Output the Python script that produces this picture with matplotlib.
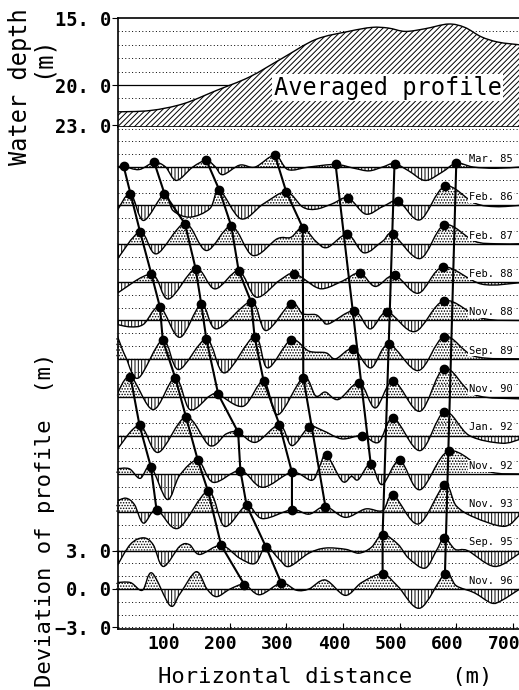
import numpy as np
import matplotlib
matplotlib.use("Agg")
import matplotlib.pyplot as plt
from matplotlib.path import Path
from matplotlib.patches import PathPatch, Rectangle
from matplotlib.transforms import ScaledTranslation

plt.rcParams['hatch.linewidth'] = 0.7
MONO = 'DejaVu Sans Mono'

#%% data (x in m, deviation / depth in m)

avg_x = [0, 60, 118, 177, 235, 293, 352, 410, 451, 480, 510, 545, 586, 615, 644, 674, 712]
avg_depth = [22.0, 21.9, 21.4, 20.4, 19.4, 18.0, 16.6, 16.0, 15.7, 15.75, 16.0, 15.8, 15.45, 15.7, 16.4, 16.8, 17.0]

years = ['Mar. 85', 'Feb. 86', 'Feb. 87', 'Feb. 88', 'Nov. 88', 'Sep. 89',
         'Nov. 90', 'Jan. 92', 'Nov. 92', 'Nov. 93', 'Sep. 95', 'Nov. 96']

x_mar85 = [0, 13, 40, 67, 87, 106, 135, 159, 175, 188, 218, 245, 280, 303, 340, 387, 420, 446, 470, 491, 516, 545, 575, 600, 630, 670, 712]
d_mar85 = [0.0, 0.05, -0.2, 0.36, 0.0, -1.05, 0.0, 0.52, 0.0, -0.6, 0.15, 0.0, 0.92, -0.2, 0.0, 0.2, -0.1, -0.3, 0.0, 0.27, -0.3, -1.05, -0.4, 0.3, 0.0, -0.1, 0.0]

x_feb86 = [0, 25, 48, 85, 100, 130, 165, 182, 220, 260, 300, 329, 352, 380, 409, 440, 470, 498, 536, 580, 632, 670, 712]
d_feb86 = [-0.53, 0.92, -1.18, 0.92, -0.4, -0.92, -0.26, 1.18, -1.05, 0.13, 1.05, -0.13, -0.3, 0.1, 0.58, -0.68, -0.1, 0.32, -1.13, 1.5, 0.18, -0.1, 0.0]

x_feb87 = [0, 42, 71, 121, 159, 203, 241, 284, 308, 329, 352, 372, 408, 437, 470, 488, 536, 579, 632, 670, 712]
d_feb87 = [-1.32, 0.92, -0.79, 1.58, -0.53, 1.37, -0.92, 0.39, 0.5, 1.26, 0.2, -0.3, 0.74, -0.71, 0.2, 0.74, -1.16, 1.47, 0.2, 0.0, 0.0]

x_feb88 = [0, 62, 92, 140, 174, 216, 247, 288, 314, 352, 370, 400, 430, 457, 491, 533, 577, 645, 712]
d_feb88 = [-0.92, 0.61, -1.32, 1.05, -0.53, 0.87, -1.18, 0.13, 0.66, -0.39, -0.47, 0.1, 0.71, -0.34, 0.53, -0.87, 1.18, -0.16, -0.05]

x_nov88 = [0, 25, 48, 77, 112, 150, 177, 238, 264, 308, 329, 352, 363, 375, 420, 448, 478, 527, 579, 645, 712]
d_nov88 = [-0.3, -0.5, -0.3, 1.05, -1.32, 1.26, -0.66, 1.45, -0.79, 1.32, 0.53, 0.45, 0.05, -0.26, 0.76, -0.66, 0.66, -0.87, 1.55, 0.18, 0.0]

x_sep89 = [0, 17, 39, 82, 110, 159, 191, 244, 267, 308, 340, 370, 387, 418, 449, 481, 533, 579, 632, 712]
d_sep89 = [2.0, 0.1, -1.5, 1.47, -0.84, 1.52, -1.1, 1.74, -0.71, 1.47, 0.6, 0.47, 0.0, 0.79, -0.71, 1.13, -0.92, 1.74, 0.2, 0.0]

x_nov90 = [0, 25, 65, 104, 130, 165, 180, 224, 260, 285, 330, 352, 369, 392, 429, 457, 489, 536, 579, 632, 712]
d_nov90 = [0.1, 1.6, -0.97, 1.53, -0.97, 0.1, 0.21, -0.71, 1.26, -1.37, 1.53, 0.1, 0.4, -0.18, 1.13, -0.84, 1.26, -1.1, 2.24, 0.2, -0.13]

x_jan92 = [0, 41, 74, 123, 165, 194, 215, 246, 288, 310, 340, 364, 398, 434, 463, 489, 536, 579, 623, 680, 712]
d_jan92 = [-1.18, 0.79, -1.32, 1.45, -0.79, 0.13, 0.26, -0.53, 0.84, -0.79, 0.66, 0.4, -0.26, 0.0, -0.53, 1.37, -1.18, 1.84, 0.0, -0.6, -0.3]

x_nov92 = [0, 23, 42, 61, 90, 112, 144, 171, 219, 258, 310, 345, 358, 371, 399, 415, 427, 449, 469, 500, 536, 587, 656, 712]
d_nov92 = [0.4, 0.4, -0.35, 0.55, -2.0, -0.1, 1.05, -0.66, 0.26, -1.05, 0.13, -0.5, 0.5, 1.47, -0.58, -0.2, -0.45, 0.79, -0.84, 1.05, -1.24, 1.79, 0.2, 0.0]

x_nov93 = [0, 17, 32, 48, 71, 109, 162, 191, 230, 258, 310, 340, 369, 404, 440, 470, 489, 533, 579, 600, 632, 685, 712]
d_nov93 = [0.85, 1.1, 0.6, -0.85, 0.2, -1.26, 1.63, -1.1, 0.53, -0.5, 0.2, -0.15, 0.45, -0.4, 0.26, 0.13, 1.32, -0.92, 2.1, 0.5, -0.4, -1.1, -0.2]

x_sep95 = [0, 25, 48, 65, 83, 112, 129, 147, 185, 218, 245, 264, 288, 305, 340, 369, 405, 428, 450, 470, 497, 516, 545, 565, 579, 598, 620, 668, 712]
d_sep95 = [-1.3, 0.5, 1.0, 0.47, -1.24, 0.34, 0.47, -0.3, 0.42, -0.6, -1.0, 0.3, -0.7, -1.24, -0.2, 0.2, 0.1, -0.2, 0.25, 1.26, 0.5, -0.6, -1.37, 0.0, 1.0, 0.1, 0.0, -1.24, -0.2]

x_nov96 = [0, 25, 46, 63, 95, 112, 141, 160, 177, 201, 226, 253, 291, 318, 340, 369, 404, 433, 470, 497, 536, 580, 600, 632, 662, 680, 712]
d_nov96 = [0.5, 0.5, -0.1, 1.25, -1.3, -0.4, 1.35, 0.0, -0.6, 0.0, 0.34, -0.45, 0.47, -0.1, 0.0, 0.7, -0.5, 0.5, 1.18, 0.2, -1.5, 1.18, 0.25, -0.3, -1.1, -0.9, 0.0]

prof_x = [x_mar85, x_feb86, x_feb87, x_feb88, x_nov88, x_sep89,
          x_nov90, x_jan92, x_nov92, x_nov93, x_sep95, x_nov96]
prof_d = [d_mar85, d_feb86, d_feb87, d_feb88, d_nov88, d_sep89,
          d_nov90, d_jan92, d_nov92, d_nov93, d_sep95, d_nov96]

# crest positions (black dots), per profile
crest_x = [[13, 67, 159, 280, 387, 491, 600],
           [25, 85, 182, 300, 409, 498, 580],
           [42, 121, 203, 329, 408, 488, 579],
           [62, 140, 216, 314, 430, 491, 577],
           [77, 150, 238, 308, 420, 478, 579],
           [82, 159, 244, 308, 418, 481, 579],
           [25, 104, 180, 260, 330, 429, 489, 579],
           [41, 123, 215, 288, 340, 434, 489, 579],
           [61, 144, 219, 310, 371, 449, 500, 587],
           [71, 162, 230, 310, 369, 489, 579],
           [185, 264, 470, 579],
           [226, 291, 470, 580]]

# crest migration lines : (profile index, crest x)
track_a = [(0, 13), (1, 25), (2, 42), (3, 62), (4, 77), (5, 82), (6, 104), (7, 123), (8, 144), (9, 162), (10, 185), (11, 226)]
track_b = [(0, 67), (1, 85), (2, 121), (3, 140), (4, 150), (5, 159), (6, 180), (7, 215), (8, 219), (9, 230), (10, 264), (11, 291)]
track_c = [(0, 159), (1, 182), (2, 203), (3, 216), (4, 238), (5, 244), (6, 260), (7, 288), (8, 310), (9, 310)]
track_d = [(0, 280), (1, 300), (2, 329), (6, 330), (9, 369)]
track_e = [(6, 25), (7, 41), (8, 61), (9, 71)]
track_f = [(0, 387), (8, 449)]
track_g = [(0, 491), (10, 470), (11, 470)]
track_h = [(0, 600), (11, 580)]
tracks = [track_a, track_b, track_c, track_d, track_e, track_f, track_g, track_h]

step = 3.0
nprof = len(years)


def smooth(xs, ys):
    # bezier path running through every read point
    p = np.column_stack([xs, ys]).astype(float)
    n = len(p)
    verts = [p[0]]
    codes = [Path.MOVETO]
    for i in range(n-1):
        p0 = p[max(i-1, 0)]
        p1 = p[i]
        p2 = p[i+1]
        p3 = p[min(i+2, n-1)]
        verts += [p1+(p2-p0)/6, p2-(p3-p1)/6, p2]
        codes += [Path.CURVE4]*3
    return verts, codes


def closed(xs, ys, ybase):
    v, c = smooth(xs, ys)
    v = v+[(xs[-1], ybase), (xs[0], ybase), (xs[0], ys[0])]
    c = c+[Path.LINETO, Path.LINETO, Path.CLOSEPOLY]
    return Path(v, c)


def dotted(ax, y, lw=0.7):
    ax.axhline(y, color='k', lw=lw, ls=(0, (1, 2.5)), zorder=1)


W, H = 519, 690
fig = plt.figure(figsize=(W/100, H/100), dpi=100)
ax1 = fig.add_axes([118/W, 1-127/H, (W-118)/W, 109/H])
ax2 = fig.add_axes([118/W, 1-629/H, (W-118)/W, 502/H])

xlim = (3, 710.7)

#%% averaged profile
ax1.set_xlim(xlim)
ax1.set_ylim(23.13, 15.0)
for y in [16, 17, 18, 19, 21, 22]:
    dotted(ax1, y)
ax1.axhline(20, color='k', lw=0.9, zorder=1)
top = PathPatch(closed(avg_x, avg_depth, 23.5), facecolor='white', edgecolor='k',
                hatch='//////', lw=0, zorder=2)
ax1.add_patch(top)
v, c = smooth(avg_x, avg_depth)
ax1.add_patch(PathPatch(Path(v, c), fill=False, lw=1.0, zorder=3))
ax1.text(479, 20.2, 'Averaged profile', family=MONO, fontsize=17, ha='center', va='center',
         bbox=dict(facecolor='white', edgecolor='none', pad=1), zorder=5)
ax1.set_xticks([])
ax1.set_yticks([15, 20, 23])
ax1.set_yticklabels(['15. 0', '20. 0', '23. 0'], family=MONO, fontsize=13.5, fontweight='bold')
ax1.tick_params(axis='y', direction='out', length=4, width=0.8, pad=1)
ax1.spines['right'].set_visible(False)
for s in ['left', 'top', 'bottom']:
    ax1.spines[s].set_linewidth(1.2)

#%% deviations
ax2.set_xlim(xlim)
ax2.set_ylim(-3.13, 36.13)
for y in range(-3, 37):
    if y % 3 == 0 and 0 <= y <= 33:
        ax2.axhline(y, color='k', lw=1.0, zorder=2.5)
    else:
        dotted(ax2, y)

for k in range(nprof):
    base = step*(nprof-1-k)
    xs = np.array(prof_x[k], float)
    ys = base+np.array(prof_d[k])
    pth = closed(xs, ys, base)
    up = PathPatch(pth, facecolor='none', edgecolor='k', hatch='......', lw=0, zorder=2)
    dn = PathPatch(pth, facecolor='none', edgecolor='k', hatch='|||||', lw=0, zorder=2)
    ax2.add_patch(up)
    ax2.add_patch(dn)
    up.set_clip_path(Rectangle((-50, base), 900, step, transform=ax2.transData))
    dn.set_clip_path(Rectangle((-50, base-step), 900, step, transform=ax2.transData))
    v, c = smooth(xs, ys)
    ax2.add_patch(PathPatch(Path(v, c), fill=False, lw=1.0, zorder=3))
    cx = np.array(crest_x[k], float)
    ax2.plot(cx, base+np.interp(cx, xs, prof_d[k]), 'o', color='k', ms=6, zorder=5)
    ax2.text(700, base+0.25, years[k], family=MONO, fontsize=7.5, ha='right', va='bottom',
             bbox=dict(facecolor='white', edgecolor='none', pad=0.6), zorder=6)

for tr in tracks:
    tx = [p[1] for p in tr]
    ty = [step*(nprof-1-p[0])+np.interp(p[1], prof_x[p[0]], prof_d[p[0]]) for p in tr]
    ax2.plot(tx, ty, color='k', lw=1.5, zorder=4)

ax2.set_xticks([100, 200, 300, 400, 500, 600, 700])
ax2.set_xticklabels(['100', '200', '300', '400', '500', '600', '700'], family=MONO,
                    fontsize=13, fontweight='bold')
ax2.tick_params(axis='x', direction='in', length=4, width=0.8, pad=4)
off = ScaledTranslation(-9/100, 0, fig.dpi_scale_trans)
for lab in ax2.get_xticklabels():
    lab.set_transform(lab.get_transform()+off)
ax2.set_yticks([-3, 0, 3])
ax2.set_yticklabels(['\u22123. 0', '0. 0', '3. 0'], family=MONO, fontsize=13.5, fontweight='bold')
ax2.tick_params(axis='y', direction='out', length=4, width=0.8, pad=1)
ax2.spines['right'].set_visible(False)
ax2.spines['top'].set_visible(False)
for s in ['left', 'bottom']:
    ax2.spines[s].set_linewidth(1.2)

#%% axis titles
fig.text(20/W, 1-87/H, 'Water depth', family=MONO, fontsize=17, rotation=90, ha='center', va='center')
fig.text(42/W, 1-57/H, '(m)', family=MONO, fontsize=17, rotation=90, ha='center', va='center')
fig.text(45/W, 1-520/H, 'Deviation of profile  (m)', family=MONO, fontsize=16, rotation=90, ha='center', va='center')
fig.text(325/W, 1-677/H, 'Horizontal distance   (m)', family=MONO, fontsize=16, ha='center', va='center')

fig.savefig('out.png', dpi=100)
